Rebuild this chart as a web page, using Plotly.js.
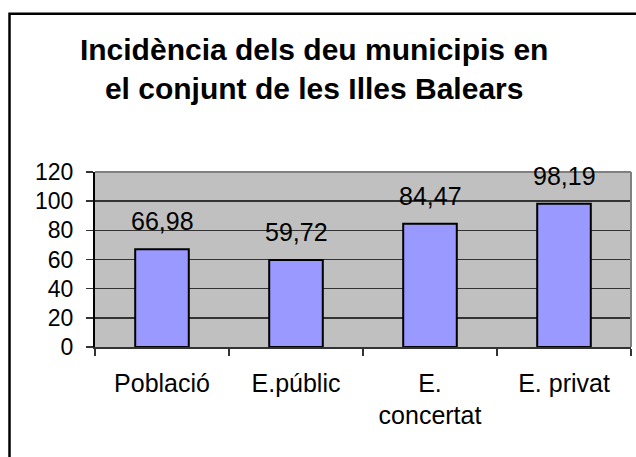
<!DOCTYPE html>
<html>
<head>
<meta charset="utf-8">
<script src="https://cdn.plot.ly/plotly-3.0.1.min.js"></script>
<style>html,body{margin:0;padding:0;background:#fff;}</style>
</head>
<body>
<div id="chart" style="width:636px;height:457px;"></div>
<script>
var categories = ["Població", "E.públic", "E.<br>concertat", "E. privat"];
var values = [66.98, 59.72, 84.47, 98.19];
var valueLabels = ["66,98", "59,72", "84,47", "98,19"];
var yTicks = [0, 20, 40, 60, 80, 100, 120];

var font = "'Liberation Sans', Arial, sans-serif";

var trace = {
  type: "bar",
  x: categories,
  y: values,
  marker: {color: "#9999FF", line: {color: "#000000", width: 2}},
  hoverinfo: "x+y"
};

var annotations = categories.map(function (c, i) {
  return {
    x: c, y: values[i], xref: "x", yref: "y",
    text: valueLabels[i], showarrow: false,
    yanchor: "bottom", yshift: 12,
    font: {family: font, size: 25, color: "#000"}
  };
});

var layout = {
  width: 636, height: 457,
  margin: {l: 95, r: 5, t: 172, b: 110},
  paper_bgcolor: "#ffffff",
  plot_bgcolor: "#C0C0C0",
  showlegend: false,
  bargap: 0.6,
  title: {
    text: "Incidència dels deu municipis en<br>el conjunt de les Illes Balears",
    font: {family: font, size: 30, color: "#000", weight: "bold"},
    x: 0.494, xref: "container", xanchor: "center",
    y: 0.869, yref: "container", yanchor: "top"
  },
  xaxis: {
    type: "category",
    tickson: "boundaries",
    ticks: "outside", ticklen: 7, tickwidth: 1.5, tickcolor: "#333",
    showline: true, linecolor: "#333", linewidth: 1.5,
    showgrid: false,
    ticklabelstandoff: 13,
    tickfont: {family: font, size: 25, color: "#000"}
  },
  yaxis: {
    range: [0, 120],
    tickvals: yTicks,
    ticktext: yTicks.map(String),
    ticks: "outside", ticklen: 7, tickwidth: 1.5, tickcolor: "#333",
    showline: true, linecolor: "#000", linewidth: 2,
    showgrid: true, gridcolor: "#333", gridwidth: 1.5,
    zeroline: false,
    ticklabelstandoff: 8,
    tickfont: {family: font, size: 23, color: "#000"}
  },
  annotations: annotations,
  shapes: [
    {type: "line", xref: "paper", yref: "paper", x0: 0, x1: 1, y0: 1, y1: 1,
     line: {color: "#808080", width: 2}, layer: "above"},
    {type: "line", xref: "paper", yref: "paper", x0: 1, x1: 1, y0: 0, y1: 1,
     line: {color: "#808080", width: 2}, layer: "above"},
    {type: "rect", xref: "paper", yref: "paper", x0: -0.1595, x1: 1.06, y0: -0.75, y1: 1.905,
     line: {color: "#000", width: 2.5}, fillcolor: "rgba(0,0,0,0)", layer: "above"}
  ]
};

Plotly.newPlot("chart", [trace], layout, {displayModeBar: false, staticPlot: true});
</script>
</body>
</html>
